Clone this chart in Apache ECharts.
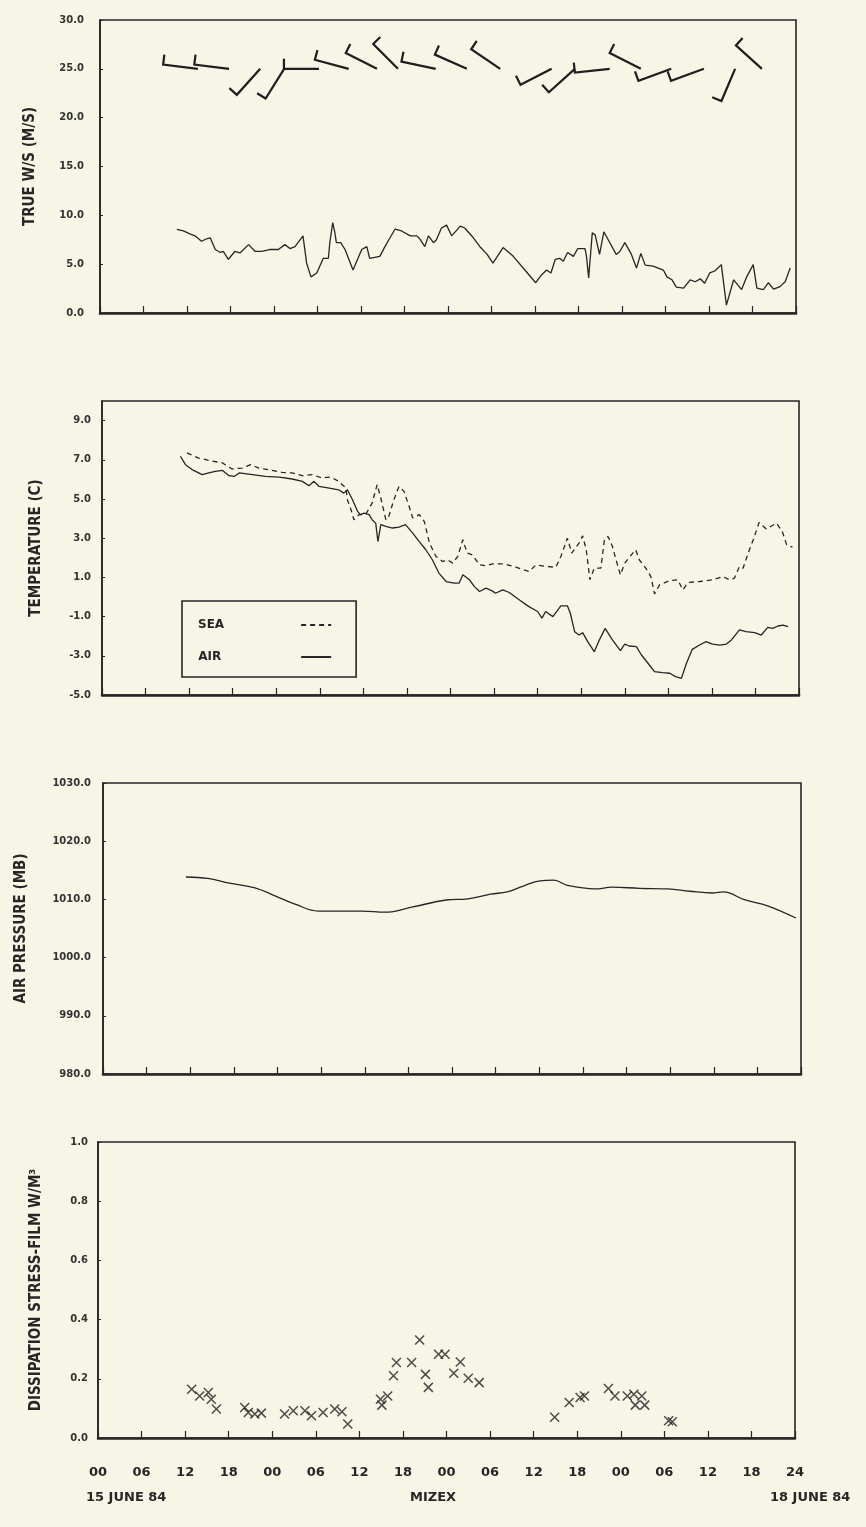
<!DOCTYPE html>
<html>
<head>
<meta charset="utf-8">
<script src="https://cdn.jsdelivr.net/npm/echarts/dist/echarts.min.js"></script>
<style>
html,body{margin:0;padding:0;background:#f6f5e6;}
#c{width:866px;height:1527px;}
</style>
</head>
<body>
<div id="c"></div>
<script>
// ---- tick labels (hours from 00 on 15 June 84, every 6 h) ----
const xTickLabels = ['00','06','12','18','00','06','12','18','00','06','12','18','00','06','12','18','24'];

// ---- panel 1: true wind speed (m/s) ----
const windHours = [10.6,11.5,12.4,13.1,14.0,14.7,15.2,15.9,16.6,17.0,17.7,18.6,19.3,20.5,21.4,22.3,23.4,24.6,25.5,26.2,26.9,28.0,28.5,29.1,29.9,30.8,31.5,31.7,32.1,32.4,32.6,33.2,33.8,34.9,36.1,36.8,37.2,38.6,39.3,40.0,40.7,41.6,42.8,43.7,44.1,44.8,45.3,46.0,46.4,47.1,47.8,48.5,49.7,50.3,51.5,52.5,53.4,54.2,55.6,57.0,58.6,60.1,60.9,61.6,62.2,62.8,63.4,63.9,64.5,65.3,65.9,66.9,67.1,67.4,67.9,68.3,68.9,69.5,70.1,71.2,71.7,72.4,73.3,74.0,74.6,75.2,76.3,77.7,78.2,78.9,79.5,80.5,81.4,82.1,82.8,83.4,84.1,84.8,85.7,86.4,87.4,88.5,89.2,90.1,90.6,91.5,92.2,92.9,93.8,94.5,95.2];
const windSpeed = [8.56,8.4,8.1,7.9,7.35,7.6,7.7,6.5,6.2,6.3,5.5,6.3,6.15,7.0,6.3,6.3,6.5,6.5,7.0,6.6,6.8,7.9,5.1,3.7,4.1,5.6,5.6,7.2,9.25,8.2,7.2,7.2,6.5,4.4,6.5,6.8,5.6,5.8,6.8,7.7,8.6,8.4,7.9,7.9,7.6,6.8,7.9,7.2,7.5,8.7,9.0,7.9,8.9,8.7,7.7,6.7,6.0,5.1,6.7,5.8,4.4,3.1,3.9,4.4,4.1,5.5,5.6,5.3,6.2,5.8,6.6,6.6,5.8,3.6,8.2,8.0,6.0,8.3,7.5,6.0,6.3,7.2,6.0,4.6,6.1,4.9,4.8,4.4,3.7,3.4,2.65,2.55,3.4,3.2,3.5,3.05,4.1,4.3,4.95,0.8,3.4,2.4,3.7,4.95,2.55,2.4,3.1,2.45,2.7,3.2,4.6];
// wind direction barbs (hour, direction in degrees, meteorological)
const barbHours = [13.5,17.8,22.1,25.4,30.2,34.3,38.2,41.1,46.3,50.6,55.2,62.3,65.5,70.3,74.6,78.8,83.3,87.6,91.3];
const barbDir   = [277,277,222,212,270,285,297,315,282,294,304,243,228,264,297,250,250,203,312];

// ---- panel 2: temperature (C) ----
const airHours = [10.8,11.5,12.4,13.8,14.7,15.6,16.6,17.5,18.2,18.9,20.7,22.5,24.4,26.2,27.6,28.5,29.2,29.9,31.3,32.6,33.3,33.8,34.5,35.2,35.6,36.1,36.8,37.2,37.7,38.0,38.4,39.1,40.0,40.9,41.8,42.8,43.7,44.6,45.5,46.4,47.4,48.5,49.2,49.7,50.6,51.3,52.0,52.9,53.8,54.2,55.2,56.1,57.5,58.8,60.0,60.6,61.1,62.1,63.2,64.1,64.5,65.1,65.7,66.2,66.9,67.8,68.5,69.3,70.3,71.4,72.0,72.6,73.6,74.3,75.2,76.1,77.2,78.2,79.0,79.8,80.5,81.3,82.3,83.2,84.1,85.1,86.0,86.7,87.8,88.7,89.9,90.8,91.7,92.4,93.1,93.8,94.5];
const airTemp = [7.18,6.75,6.5,6.24,6.33,6.41,6.46,6.19,6.15,6.33,6.24,6.15,6.12,6.02,5.9,5.68,5.9,5.64,5.56,5.47,5.3,5.47,4.96,4.37,4.2,4.28,4.2,3.94,3.77,2.83,3.69,3.6,3.52,3.57,3.69,3.26,2.83,2.41,1.9,1.22,0.79,0.71,0.71,1.13,0.88,0.53,0.28,0.45,0.3,0.19,0.36,0.23,-0.15,-0.49,-0.74,-1.08,-0.74,-1.0,-0.45,-0.45,-0.83,-1.77,-1.94,-1.82,-2.28,-2.79,-2.19,-1.6,-2.19,-2.74,-2.4,-2.5,-2.53,-2.96,-3.38,-3.81,-3.86,-3.89,-4.06,-4.15,-3.38,-2.67,-2.45,-2.28,-2.4,-2.45,-2.4,-2.19,-1.68,-1.77,-1.82,-1.94,-1.55,-1.6,-1.48,-1.43,-1.51];
const seaHours = [11.7,13.3,14.7,16.6,17.9,19.3,20.5,21.6,23.4,24.8,26.2,27.6,29.0,30.3,31.5,32.6,33.6,33.8,34.3,34.7,35.4,36.3,37.2,37.9,38.4,39.1,39.5,40.2,40.9,41.6,42.3,42.8,43.7,44.4,45.1,46.0,46.9,47.6,48.3,49.0,49.7,50.3,51.0,52.0,52.9,53.8,55.4,57.0,58.8,59.8,61.1,62.5,63.2,64.1,64.7,65.7,66.2,66.7,67.2,67.8,68.7,69.2,69.7,70.3,70.8,71.4,72.0,72.9,73.5,74.0,74.9,75.6,76.1,76.8,78.2,79.3,80.0,80.7,82.3,84.1,85.5,86.4,87.1,87.8,88.3,89.0,89.7,90.5,91.5,92.9,93.7,94.3,95.1];
const seaTemp = [7.35,7.09,6.97,6.84,6.53,6.58,6.75,6.58,6.46,6.36,6.33,6.19,6.24,6.07,6.12,5.9,5.56,4.96,4.45,3.94,4.2,4.2,4.79,5.73,5.05,3.94,4.11,4.96,5.64,5.39,4.62,4.03,4.2,3.85,2.75,2.07,1.81,1.9,1.73,2.07,2.92,2.24,2.15,1.64,1.59,1.69,1.69,1.52,1.3,1.64,1.56,1.52,2.07,3.0,2.24,2.75,3.12,2.41,0.88,1.47,1.47,2.92,3.09,2.58,1.9,1.13,1.73,2.15,2.41,1.9,1.47,1.04,0.16,0.62,0.84,0.88,0.36,0.74,0.79,0.88,1.04,0.88,0.96,1.56,1.47,2.24,2.92,3.8,3.47,3.77,3.34,2.66,2.54];

// ---- panel 3: air pressure (mb) ----
const presHours = [11.4,14.4,17.4,20.9,23.5,26.6,29.6,32.7,35.7,38.8,42.6,47.2,50.2,53.3,55.6,57.8,60.1,62.0,63.9,67.7,70.0,73.8,77.7,80.7,83.8,85.3,88.3,91.4,95.3];
const pressure  = [1013.85,1013.6,1012.8,1012.0,1010.7,1009.1,1008.0,1008.0,1008.0,1007.8,1008.7,1009.9,1010.1,1010.9,1011.3,1012.3,1013.2,1013.3,1012.4,1011.8,1012.1,1011.9,1011.8,1011.4,1011.1,1011.3,1009.9,1008.9,1006.8];

// ---- panel 4: dissipation, stress-film ----
const dissHours = [12.9,14.0,15.2,15.6,16.3,20.2,20.7,21.6,22.5,25.7,26.9,28.5,29.4,31.0,32.6,33.6,34.4,38.9,39.1,39.9,40.7,41.1,43.2,44.3,45.1,45.5,46.9,47.8,49.0,49.9,51.0,52.5,62.9,64.9,66.4,67.0,70.3,71.2,72.9,73.8,74.9,74.0,75.3,78.6,79.1];
const dissipation = [0.165,0.142,0.154,0.131,0.098,0.103,0.086,0.081,0.084,0.081,0.092,0.092,0.075,0.086,0.098,0.089,0.047,0.131,0.111,0.142,0.21,0.255,0.255,0.331,0.215,0.171,0.283,0.283,0.219,0.257,0.202,0.187,0.07,0.12,0.137,0.142,0.167,0.142,0.142,0.148,0.142,0.111,0.111,0.058,0.055];

const ink = '#262626';
const FONT = "'DejaVu Sans', sans-serif";
const NAMEFONT = "'DejaVu Sans Condensed', 'DejaVu Sans', sans-serif";

const zip = (a, b) => a.map((v, i) => [v, b[i]]);

const grids = [
  {left: 100, right: 70, top: 20, height: 293},
  {left: 102, right: 67, top: 401, height: 294},
  {left: 103, right: 65, top: 783, height: 291},
  {left: 98, right: 71, top: 1142, height: 296}
].map(g => Object.assign({show: true, borderColor: ink, borderWidth: 1.6, backgroundColor: 'transparent'}, g));

const xAxes = grids.map((g, i) => ({
  type: 'value', gridIndex: i, min: 0, max: 96, interval: 6,
  axisLine: {show: true, onZero: false, lineStyle: {color: ink, width: 2.6}},
  axisTick: {show: true, inside: true, length: 7, lineStyle: {color: ink, width: 1.2}},
  splitLine: {show: false},
  axisLabel: {
    show: i === 3, margin: 28, color: ink, fontSize: 13, fontWeight: 'bold', fontFamily: FONT,
    formatter: v => xTickLabels[Math.round(v / 6)]
  }
}));

function yAxis(i, min, max, interval, name, gap, margin, extra) {
  return Object.assign({
    type: 'value', gridIndex: i, min: min, max: max, interval: interval,
    name: name, nameLocation: 'middle', nameRotate: 90, nameGap: gap,
    nameTextStyle: {color: ink, fontSize: 15, fontWeight: 'bold', fontFamily: NAMEFONT},
    axisLine: {show: true, onZero: false, lineStyle: {color: ink, width: 1.6}},
    axisTick: {show: true, inside: true, length: 3, lineStyle: {color: ink}},
    splitLine: {show: false},
    axisLabel: {margin: margin, color: '#333', fontSize: 10, fontWeight: 'bold', fontFamily: FONT,
      formatter: v => v.toFixed(1)}
  }, extra || {});
}

const yAxes = [
  yAxis(0, 0, 30, 5, 'TRUE W/S (M/S)', 62, 16),
  yAxis(1, -5, 10, 2, 'TEMPERATURE (C)', 58, 11,
    {axisLabel: {margin: 11, color: '#333', fontSize: 10, fontWeight: 'bold', fontFamily: FONT,
      showMaxLabel: false, formatter: v => v.toFixed(1)}}),
  yAxis(2, 980, 1030, 10, 'AIR PRESSURE (MB)', 74, 12),
  yAxis(3, 0, 1, 0.2, 'DISSIPATION STRESS-FILM W/M³', 54, 10)
];

const barbLevel = 25;
const legendText = {color: ink, fontSize: 12, fontWeight: 'bold', fontFamily: FONT};
const option = {
  backgroundColor: '#f6f5e6',
  animation: false,
  grid: grids,
  xAxis: xAxes,
  yAxis: yAxes,
  legend: {
    data: [
      {name: 'SEA', textStyle: Object.assign({padding: [0, 72, 0, 0]}, legendText)},
      {name: 'AIR', textStyle: Object.assign({padding: [0, 75, 0, 0]}, legendText)}
    ],
    orient: 'vertical', align: 'right',
    left: 182, top: 601,
    itemWidth: 30, itemHeight: 12, itemGap: 20,
    padding: [18, 24, 14, 16],
    borderColor: ink, borderWidth: 1.6, backgroundColor: '#f6f5e6',
    itemStyle: {color: 'rgba(0,0,0,0)', borderColor: 'rgba(0,0,0,0)', borderWidth: 0, opacity: 0},
    textStyle: legendText
  },
  graphic: [
    {type: 'text', left: 86, top: 1491, style: {text: '15 JUNE 84', fill: ink, font: "bold 13px 'DejaVu Sans', sans-serif"}},
    {type: 'text', left: 410, top: 1491, style: {text: 'MIZEX', fill: ink, font: "bold 13px 'DejaVu Sans', sans-serif"}},
    {type: 'text', left: 770, top: 1491, style: {text: '18 JUNE 84', fill: ink, font: "bold 13px 'DejaVu Sans', sans-serif"}}
  ],
  series: [
    {
      name: 'WIND', type: 'line', xAxisIndex: 0, yAxisIndex: 0,
      data: zip(windHours, windSpeed), showSymbol: false, symbol: 'none',
      lineStyle: {color: ink, width: 1.3}
    },
    {
      name: 'DIRECTION', type: 'custom', xAxisIndex: 0, yAxisIndex: 0,
      data: barbHours.map((h, i) => [h, barbLevel, barbDir[i]]),
      renderItem: function (params, api) {
        const p = api.coord([api.value(0), api.value(1)]);
        const th = api.value(2) * Math.PI / 180;
        const L = 35, F = 10;
        const dx = Math.sin(th), dy = -Math.cos(th);
        const ex = p[0] + L * dx, ey = p[1] + L * dy;
        const fx = ex - F * dy, fy = ey + F * dx;
        return {type: 'polyline', shape: {points: [[fx, fy], [ex, ey], p]},
          style: {stroke: '#1e1e1e', lineWidth: 2.2, fill: null}};
      }
    },
    {
      name: 'SEA', type: 'line', xAxisIndex: 1, yAxisIndex: 1,
      data: zip(seaHours, seaTemp), showSymbol: false, symbol: 'none',
      lineStyle: {color: ink, width: 1.3, type: [5, 4]}, itemStyle: {color: ink}
    },
    {
      name: 'AIR', type: 'line', xAxisIndex: 1, yAxisIndex: 1,
      data: zip(airHours, airTemp), showSymbol: false, symbol: 'none',
      lineStyle: {color: ink, width: 1.3}, itemStyle: {color: ink}
    },
    {
      name: 'PRESSURE', type: 'line', xAxisIndex: 2, yAxisIndex: 2,
      data: zip(presHours, pressure), showSymbol: false, symbol: 'none', smooth: 0.4,
      lineStyle: {color: ink, width: 1.3}
    },
    {
      name: 'DISSIPATION', type: 'scatter', xAxisIndex: 3, yAxisIndex: 3,
      data: zip(dissHours, dissipation),
      symbol: 'path://M0,0L10,10M10,0L0,10', symbolSize: 9,
      itemStyle: {color: 'rgba(0,0,0,0)', borderColor: '#222', borderWidth: 1.5}
    }
  ]
};

const chart = echarts.init(document.getElementById('c'), null, {renderer: 'canvas'});
chart.setOption(option);
</script>
</body>
</html>
